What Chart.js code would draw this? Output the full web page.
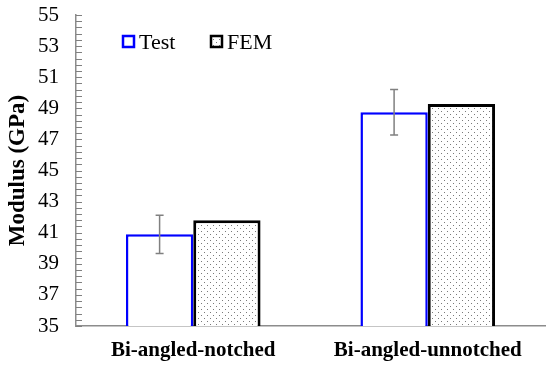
<!DOCTYPE html>
<html>
<head>
<meta charset="utf-8">
<script src="https://cdn.jsdelivr.net/npm/chart.js@4"></script>
<style>
  html, body { margin: 0; padding: 0; background: #fff; }
  #wrap { width: 550px; height: 366px; }
</style>
</head>
<body>
<div id="wrap"><canvas id="chart" width="550" height="366"></canvas></div>
<script>
// ---------- Data ----------
const categories = ["Bi-angled-notched", "Bi-angled-unnotched"];
const testValues = [40.9, 48.75];
const testErrors = [1.23, 1.46];
const femValues = [41.8, 49.28];
const yTicks = [35, 37, 39, 41, 43, 45, 47, 49, 51, 53, 55];

// ---------- Stipple pattern for FEM bars ----------
function makeDots() {
  const c = document.createElement("canvas");
  c.width = 6; c.height = 6;
  const g = c.getContext("2d");
  g.fillStyle = "#fff";
  g.fillRect(0, 0, 6, 6);
  g.fillStyle = "#7a7a7a";
  g.fillRect(0, 0, 1, 1);
  g.fillRect(3, 3, 1, 1);
  return g.createPattern(c, "repeat");
}
const dots = makeDots();

// ---------- Plugins: minor ticks, error bars, legend ----------
const extras = {
  id: "extras",
  afterDatasetsDraw(chart) {
    const ctx = chart.ctx;
    const y = chart.scales.y;
    const meta = chart.getDatasetMeta(0);
    ctx.save();
    ctx.strokeStyle = "#808080";
    ctx.lineWidth = 1.5;
    meta.data.forEach((bar, i) => {
      const top = y.getPixelForValue(testValues[i] + testErrors[i]);
      const bot = y.getPixelForValue(testValues[i] - testErrors[i]);
      const x = bar.x;
      ctx.beginPath();
      ctx.moveTo(x, top); ctx.lineTo(x, bot);
      ctx.moveTo(x - 4, top); ctx.lineTo(x + 4, top);
      ctx.moveTo(x - 4, bot); ctx.lineTo(x + 4, bot);
      ctx.stroke();
    });
    ctx.restore();
  },
  afterDraw(chart) {
    const ctx = chart.ctx;
    const y = chart.scales.y;
    const left = chart.chartArea.left;
    ctx.save();
    // tick marks every 0.4, pointing inside
    ctx.strokeStyle = "#808080";
    ctx.lineWidth = 1;
    for (let i = 0; i <= 50; i++) {
      const py = Math.round(y.getPixelForValue(35 + i * 0.4)) + 0.5;
      ctx.beginPath();
      ctx.moveTo(left, py);
      ctx.lineTo(left + 6, py);
      ctx.stroke();
    }
    // legend
    ctx.font = "22px 'Liberation Serif'";
    ctx.textBaseline = "alphabetic";
    ctx.lineWidth = 2.5;
    ctx.fillStyle = "#fff";
    ctx.strokeStyle = "#0000ff";
    ctx.fillRect(123, 36, 11, 11);
    ctx.strokeRect(123, 36, 11, 11);
    ctx.fillStyle = dots;
    ctx.strokeStyle = "#000";
    ctx.fillRect(211, 36, 11, 11);
    ctx.strokeRect(211, 36, 11, 11);
    ctx.fillStyle = "#000";
    ctx.fillText("Test", 139, 49);
    ctx.fillText("FEM", 227, 49);
    ctx.restore();
  }
};

// ---------- Chart ----------
const ctx = document.getElementById("chart").getContext("2d");

new Chart(ctx, {
  type: "bar",
  data: {
    labels: categories,
    datasets: [
      {
        label: "Test",
        data: testValues,
        backgroundColor: "#fff",
        borderColor: "#0000ff",
        borderWidth: 2.5,
        borderSkipped: false
      },
      {
        label: "FEM",
        data: femValues,
        backgroundColor: dots,
        borderColor: "#000",
        borderWidth: 3,
        borderSkipped: false
      }
    ]
  },
  plugins: [extras],
  options: {
    responsive: false,
    animation: false,
    layout: { padding: { top: 15, right: 5, left: 0, bottom: 0 } },
    datasets: { bar: { categoryPercentage: 0.574, barPercentage: 1.0 } },
    plugins: {
      legend: { display: false },
      tooltip: { enabled: false }
    },
    scales: {
      x: {
        grid: { display: false, drawTicks: false },
        border: { display: true, color: "#8c8c8c", width: 1.5 },
        ticks: {
          color: "#000",
          padding: 12,
          font: { family: "'Liberation Serif'", size: 21, weight: "bold" }
        },
        afterFit: s => { s.height = 40; s.paddingLeft = 0; s.paddingRight = 0; }
      },
      y: {
        min: 35,
        max: 55,
        afterBuildTicks: s => { s.ticks = yTicks.map(v => ({ value: v })); },
        grid: { display: false, drawTicks: false },
        border: { display: true, color: "#8c8c8c", width: 1.5 },
        ticks: {
          color: "#000",
          padding: 17,
          font: { family: "'Liberation Serif'", size: 21 }
        },
        title: {
          display: true,
          text: "Modulus (GPa)",
          color: "#000",
          padding: { top: 4, bottom: 0 },
          font: { family: "'Liberation Serif'", size: 23, weight: "bold" }
        },
        afterFit: s => { s.width = 76; s.paddingTop = 0; s.paddingBottom = 0; }
      }
    }
  }
});
</script>
</body>
</html>
